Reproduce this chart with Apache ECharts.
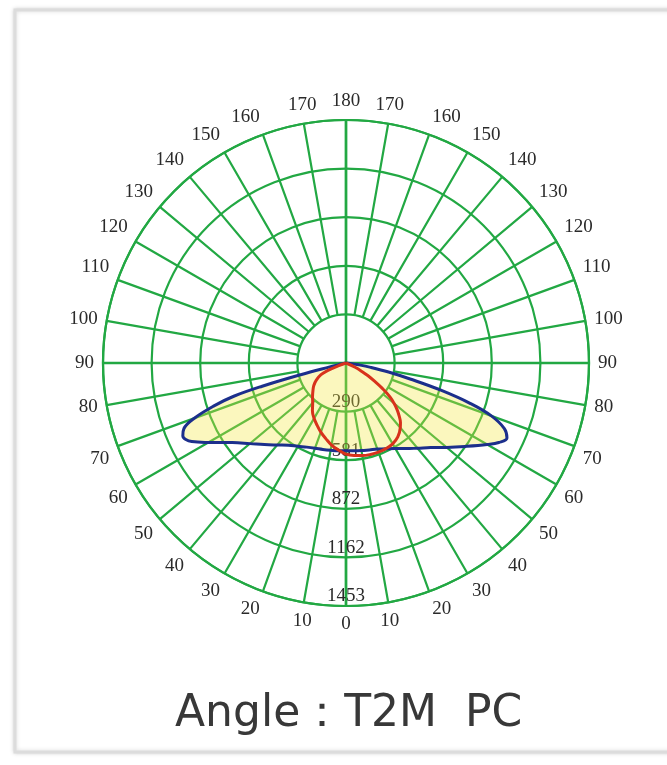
<!DOCTYPE html>
<html>
<head>
<meta charset="utf-8">
<script src="https://cdn.jsdelivr.net/npm/echarts@6/dist/echarts.min.js"></script>
<style>
html,body{margin:0;padding:0;background:#ffffff;}
#chart{width:667px;height:765px;}
</style>
</head>
<body>
<div id="chart"></div>
<script>
// ---- data ----
const titleText = 'Angle：T2M  PC';
const radialMax = 1453;
const radialInterval = 290.6;
const radialTickLabels = ['', '290', '581', '872', '1162', '1453'];

// C0-C180 plane (blue), angle from nadir, left half
const blueLeftAngles = [90, 82, 78, 76.5, 75.5, 74.5, 73.5, 72, 70, 68, 66, 63, 60, 55, 50, 45, 40, 35, 30, 25, 20, 15, 10, 5, 0];
const blueLeftValues = [0, 8, 30, 100, 280, 520, 700, 830, 965, 1045, 1068, 1035, 950, 830, 750, 690, 640, 600, 575, 555, 542, 535, 530, 527, 525];
// right half
const blueRightAngles = [5, 10, 15, 20, 25, 30, 35, 40, 45, 50, 55, 60, 62.5, 65, 67.5, 70, 72, 74, 76, 78, 80, 82, 85, 90];
const blueRightValues = [527, 532, 538, 548, 565, 590, 625, 665, 715, 785, 870, 975, 1030, 1062, 1025, 925, 780, 590, 395, 260, 150, 75, 25, 0];

// C90-C270 plane (red)
const redLeftAngles = [90, 72, 70, 67.5, 65, 60, 55, 50, 45, 40, 35, 30, 25, 20, 15, 10, 5, 0];
const redLeftValues = [0, 0, 50, 120, 165, 205, 235, 258, 283, 310, 350, 382, 410, 440, 468, 498, 522, 545];
const redRightAngles = [5, 10, 15, 20, 25, 30, 35, 40, 42.5, 45, 47.5, 50, 52.5, 55, 57.5, 60, 62, 65, 68, 90];
const redRightValues = [555, 562, 566, 567, 565, 558, 540, 505, 482, 450, 415, 375, 330, 265, 200, 150, 110, 60, 0, 0];

// ---- build ----
function buildPath(lA, lV, rA, rV) {
  const out = [];
  lA.forEach((a, i) => out.push([lV[i], a]));
  rA.forEach((a, i) => out.push([rV[i], 360 - a]));
  return out;
}
const blueData = buildPath(blueLeftAngles, blueLeftValues, blueRightAngles, blueRightValues);
const redData = buildPath(redLeftAngles, redLeftValues, redRightAngles, redRightValues);

const GREEN = '#22a843';
const CX = 346, CY = 363, R = 243;
const serif = '"Liberation Serif", "DejaVu Serif", serif';

const chart = echarts.init(document.getElementById('chart'), null, {renderer: 'canvas'});

function angleBase(extra) {
  return Object.assign({
    type: 'value', min: 0, max: 360, interval: 10,
    startAngle: 270, clockwise: true,
    axisTick: {show: false},
    axisLabel: {show: false},
    axisLine: {show: false},
    splitLine: {show: false}
  }, extra);
}

const option = {
  backgroundColor: '#ffffff',
  animation: false,
  title: {
    text: titleText,
    left: 170,
    top: 688,
    textStyle: {fontFamily: '"DejaVu Sans", sans-serif', fontWeight: 'normal', fontSize: 44, color: '#383838'}
  },
  graphic: [{
    type: 'rect', z: -10,
    shape: {x: 15, y: 10, width: 670, height: 742},
    style: {fill: '#ffffff', stroke: '#dcdcdc', lineWidth: 3, shadowBlur: 4, shadowColor: 'rgba(0,0,0,0.15)'}
  }],
  polar: [
    {center: [CX, CY], radius: R},
    {center: [CX, CY], radius: [R * 0.2, R]},
    {center: [CX, CY], radius: R}
  ],
  angleAxis: [
    angleBase({
      polarIndex: 0,
      axisLine: {show: true, lineStyle: {color: GREEN, width: 2.2}},
      axisLabel: {
        show: true, margin: 9, color: '#2a2a2a', fontFamily: serif, fontSize: 19,
        formatter: function (v) { if (v === 360) return ''; return String(v <= 180 ? v : 360 - v); }
      }
    }),
    angleBase({
      polarIndex: 1,
      splitLine: {show: true, lineStyle: {color: GREEN, width: 2.2}}
    }),
    angleBase({
      polarIndex: 2, interval: 90,
      splitLine: {show: true, lineStyle: {color: GREEN, width: 2.6}}
    })
  ],
  radiusAxis: [
    {
      polarIndex: 0, type: 'value', min: 0, max: radialMax, interval: radialInterval,
      axisLine: {show: false}, axisTick: {show: false},
      splitLine: {show: true, lineStyle: {color: GREEN, width: 2.2}},
      axisLabel: {
        show: true, margin: 0, align: 'center', verticalAlign: 'bottom',
        color: '#2a2a2a', fontFamily: serif, fontSize: 19,
        formatter: function (v, i) { return radialTickLabels[i] || ''; }
      }
    },
    {polarIndex: 1, type: 'value', min: 0, max: radialMax, show: false},
    {polarIndex: 2, type: 'value', min: 0, max: radialMax, show: false}
  ],
  series: [
    {
      type: 'line', coordinateSystem: 'polar', polarIndex: 0,
      data: blueData, smooth: 0.4, symbol: 'none',
      lineStyle: {color: '#1c2f8c', width: 3},
      areaStyle: {color: 'rgba(242,230,60,0.48)'},
      z: 3
    },
    {
      type: 'line', coordinateSystem: 'polar', polarIndex: 0,
      data: redData, smooth: 0.4, symbol: 'none',
      lineStyle: {color: '#d8321c', width: 3},
      z: 4
    }
  ]
};
chart.setOption(option);
</script>
</body>
</html>
